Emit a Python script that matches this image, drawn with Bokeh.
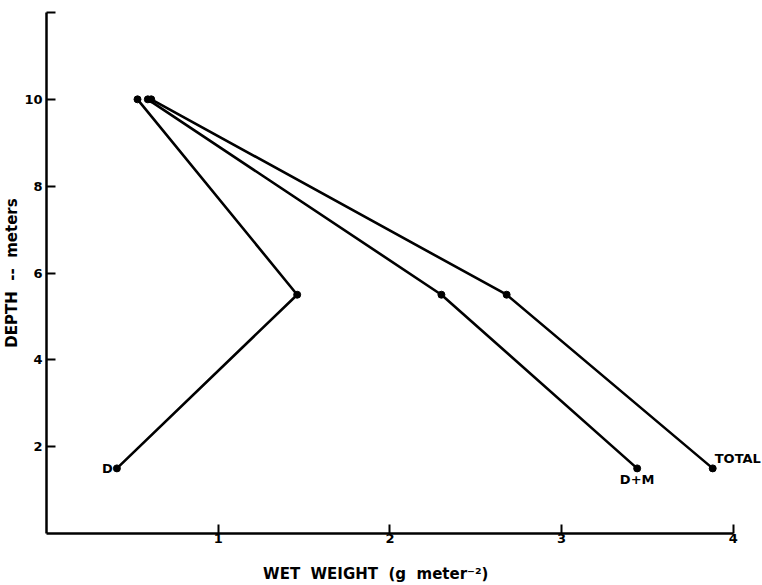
from bokeh.plotting import figure
from bokeh.models import Range1d, FixedTicker, Label
from bokeh.embed import file_html
from bokeh.resources import INLINE

# Data (depth in meters, wet weight in g m^-2)
depth = [1.5, 5.5, 10.0]
d_vals = [0.41, 1.46, 0.53]
dm_vals = [3.44, 2.30, 0.59]
total_vals = [3.88, 2.68, 0.61]
x_ticks = [1, 2, 3, 4]
y_ticks = [2, 4, 6, 8, 10, 12]
series_names = ["D", "D+M", "TOTAL"]

FONT = "DejaVu Sans"
NB = "\u00a0"

p = figure(width=762, height=585, output_backend="svg", toolbar_location=None,
           x_range=Range1d(0, 4.17), y_range=Range1d(0, 12),
           min_border_left=45, min_border_right=0, min_border_top=12, min_border_bottom=52)
p.outline_line_color = None
p.xgrid.visible = False
p.ygrid.visible = False
p.background_fill_color = "white"
p.border_fill_color = "white"

for ax in (p.xaxis[0], p.yaxis[0]):
    ax.axis_line_width = 2.5
    ax.axis_line_color = "black"
    ax.major_tick_line_width = 2
    ax.major_tick_line_color = "black"
    ax.major_tick_in = 9
    ax.major_tick_out = 0
    ax.minor_tick_line_color = None
    ax.major_label_text_font = FONT
    ax.major_label_text_font_style = "bold"
    ax.major_label_text_font_size = "13px"
    ax.major_label_text_color = "black"
    ax.axis_label_text_font = FONT
    ax.axis_label_text_font_style = "bold"
    ax.axis_label_text_font_size = "15px"
    ax.axis_label_text_color = "black"

p.xaxis.bounds = (0, 4)
p.xaxis.ticker = FixedTicker(ticks=x_ticks)
p.yaxis.ticker = FixedTicker(ticks=y_ticks)
p.yaxis.major_label_overrides = {12: ""}
p.xaxis.major_label_standoff = 0
p.yaxis.major_label_standoff = 4
p.yaxis.axis_label = "DEPTH" + NB * 2 + "--" + NB * 2 + "meters"
p.yaxis.axis_label_standoff = 0
# trailing non-breaking spaces shift the centred label left, under the 0-4 axis
p.xaxis.axis_label = "WET" + NB * 2 + "WEIGHT" + NB * 2 + "(g" + NB * 2 + "meter\u207b\u00b2)" + NB * 11
p.xaxis.axis_label_standoff = 19

for vals in (d_vals, dm_vals, total_vals):
    p.line(vals, depth, line_color="black", line_width=2.6)
    p.scatter(vals, depth, size=7, fill_color="black", line_color="black")

# series labels next to the shallow-most (1.5 m) points
lab_specs = [
    (d_vals[0], "right", "middle", -4, 0),
    (dm_vals[0], "center", "top", 0, -4),
    (total_vals[0], "left", "bottom", 2, 2),
]
for name, (xv, align, base, xo, yo) in zip(series_names, lab_specs):
    p.add_layout(Label(x=xv, y=depth[0], text=name, text_align=align, text_baseline=base,
                       x_offset=xo, y_offset=yo, text_font=FONT, text_font_style="bold",
                       text_font_size="13px", text_color="black"))

open("out.html", "w").write(file_html(p, INLINE))
